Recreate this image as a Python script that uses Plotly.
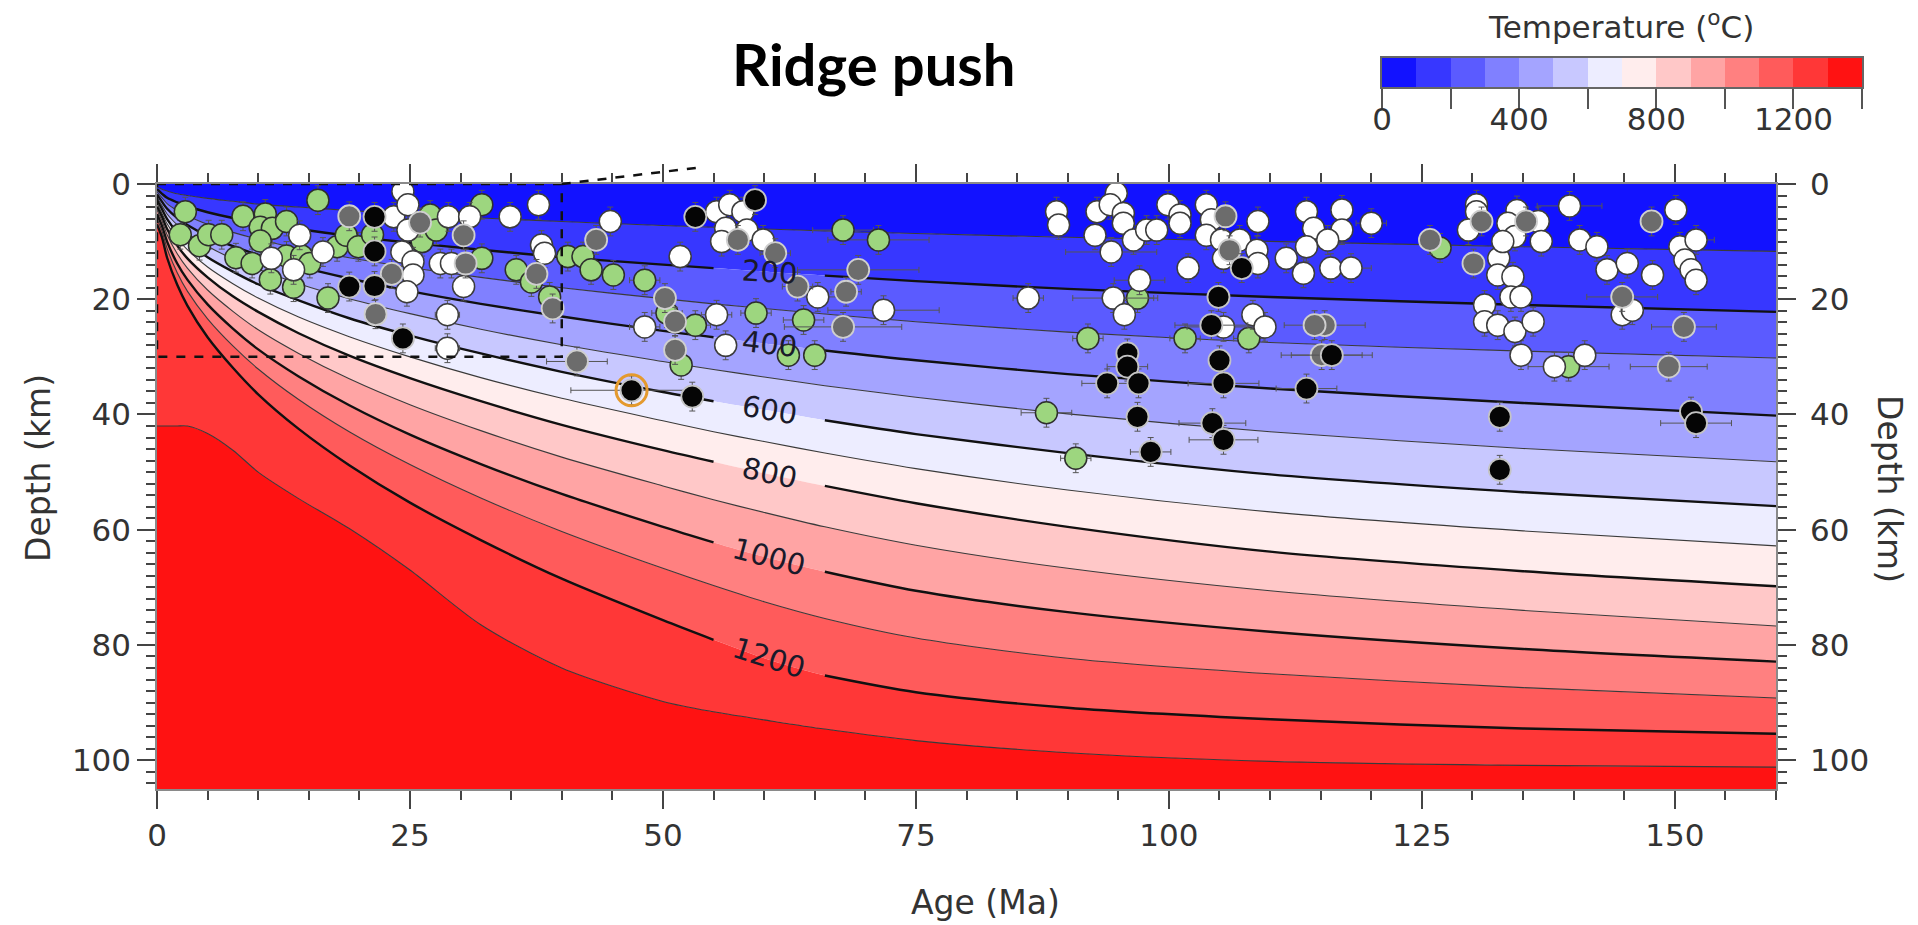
import math
import plotly.graph_objects as go

# ---------------------------------------------------------------------------
# Thermal structure: depth (km) of each isotherm at the listed plate ages (Ma)
# ---------------------------------------------------------------------------
AGES = [0, 0.5, 1, 2, 3, 5, 7.5, 10, 14, 19, 25, 32, 40, 50, 55, 60, 66, 75, 90, 110, 135, 160]

Z100 = [0.45, 0.9, 1.2, 1.7, 2.0, 2.5, 3.0, 3.5, 4.0, 4.6, 5.2, 5.9, 6.5, 7.2, 7.5, 7.8, 8.15, 8.6, 9.25, 9.95, 10.9, 11.7]
Z200 = [0.9, 1.7, 2.4, 3.2, 3.9, 4.9, 5.9, 6.7, 7.8, 9.0, 10.2, 11.4, 12.7, 14.0, 14.6, 15.2, 15.9, 16.85, 18.2, 19.6, 21.0, 22.2]
Z300 = [1.3, 2.4, 3.4, 4.6, 5.5, 7.0, 8.4, 9.6, 11.2, 12.8, 14.5, 16.2, 18.0, 19.9, 20.8, 21.6, 22.55, 23.9, 25.7, 27.5, 29.0, 30.2]
Z400 = [1.8, 3.1, 4.3, 5.9, 7.1, 9.0, 10.8, 12.3, 14.3, 16.4, 18.6, 20.8, 23.0, 25.5, 26.6, 27.7, 28.9, 30.6, 33.0, 35.5, 38.0, 40.2]
Z500 = [2.3, 3.8, 5.2, 7.1, 8.6, 10.8, 13.0, 14.8, 17.3, 19.9, 22.5, 25.2, 27.9, 30.8, 32.2, 33.5, 35.0, 37.0, 39.9, 43.0, 45.9, 48.2]
Z600 = [2.8, 4.4, 6.1, 8.4, 10.0, 12.7, 15.2, 17.4, 20.2, 23.3, 26.3, 29.4, 32.6, 36.1, 37.7, 39.2, 41.0, 43.4, 46.7, 50.4, 53.5, 55.9]
Z700 = [3.3, 5.1, 6.9, 9.5, 11.4, 14.4, 17.3, 19.8, 23.1, 26.5, 30.0, 33.6, 37.2, 41.1, 43.0, 44.7, 46.7, 49.4, 53.1, 56.9, 60.2, 62.8]
Z800 = [3.9, 5.7, 7.8, 10.7, 12.9, 16.2, 19.5, 22.2, 25.9, 29.8, 33.7, 37.7, 41.8, 46.2, 48.2, 50.2, 52.4, 55.4, 59.5, 63.8, 67.2, 69.8]
Z900 = [4.5, 6.4, 8.8, 12.1, 14.6, 18.4, 22.1, 25.3, 29.4, 33.8, 38.3, 42.8, 47.4, 52.4, 54.8, 57.0, 59.5, 62.7, 66.7, 70.6, 74.0, 76.7]
Z1000 = [5.2, 7.3, 10.0, 13.8, 16.6, 20.9, 25.1, 28.7, 33.4, 38.4, 43.5, 48.6, 53.8, 59.5, 62.2, 64.7, 67.3, 70.6, 74.3, 77.7, 80.7, 82.9]
Z1100 = [6.0, 8.2, 11.2, 15.4, 18.6, 23.4, 28.1, 32.1, 37.4, 43.0, 48.7, 54.5, 60.3, 66.7, 69.7, 72.5, 75.4, 78.8, 82.3, 85.0, 87.4, 89.2]
Z1200 = [7.0, 9.3, 12.8, 17.5, 21.1, 26.6, 31.9, 36.5, 42.5, 48.8, 55.3, 61.8, 68.5, 75.7, 79.1, 82.3, 85.3, 88.2, 90.9, 92.9, 94.5, 95.4]
Z1300 = [42.0, 42.0, 42.0, 42.0, 42.0, 43.3, 46.2, 50.0, 54.6, 59.8, 67.0, 76.5, 84.0, 89.8, 91.6, 93.0, 94.6, 96.6, 98.7, 100.2, 100.9, 101.2]

LEVELS = [100, 200, 300, 400, 500, 600, 700, 800, 900, 1000, 1100, 1200, 1300]
LABELLED = [200, 400, 600, 800, 1000, 1200]

# colour-bar classes (deg C)
TEMP_EDGES = [0, 100, 200, 300, 400, 500, 600, 700, 800, 900, 1000, 1100, 1200, 1300, 1400]
COLORBAR_LABELLED = [0, 400, 800, 1200]
COLORBAR_UNLABELLED = [200, 600, 1000, 1400]

# ---------------------------------------------------------------------------
# Earthquakes: (age Ma, depth km, age uncertainty Ma)
# ---------------------------------------------------------------------------
GREEN = [
    (2.8, 4.8, 0.8), (2.3, 8.8, 0.8), (4.2, 10.7, 0.8), (5.1, 8.8, 0.8), (6.4, 8.8, 0.8),
    (8.5, 5.6, 0.8), (10.7, 5.2, 0.8), (10.2, 7.5, 0.8), (11.4, 7.7, 0.8), (12.8, 6.5, 0.8),
    (10.2, 9.9, 0.8), (7.8, 12.8, 0.8), (9.4, 13.8, 0.8), (11.2, 16.6, 0.8), (13.5, 17.9, 0.8),
    (12.8, 12.5, 0.8), (14.3, 12.5, 0.8), (15.1, 13.8, 0.8), (15.9, 2.8, 0.8), (16.9, 19.8, 0.8),
    (17.8, 10.9, 0.8), (18.7, 8.9, 0.8), (19.9, 10.9, 0.8), (21.3, 8.8, 0.8), (26.2, 10.0, 0.8),
    (27.0, 5.4, 0.8), (27.6, 8.0, 0.8), (32.1, 3.6, 0.8), (32.1, 12.9, 0.8), (35.5, 14.9, 0.8),
    (37.0, 17.0, 0.8), (38.8, 19.6, 0.8), (40.6, 12.6, 0.8), (42.1, 12.6, 1.0), (42.9, 14.9, 1.0),
    (45.1, 15.8, 1.0), (48.2, 16.7, 1.5), (50.4, 22.4, 1.5), (53.2, 24.5, 1.5), (59.2, 22.4, 1.5),
    (63.9, 23.6, 2.0), (62.4, 29.7, 1.0), (65.0, 29.7, 1.0), (51.8, 31.4, 1.0), (67.8, 8.0, 3.0),
    (71.3, 9.7, 5.0), (87.9, 39.7, 2.5), (90.8, 47.6, 1.5), (96.9, 19.8, 2.0), (92.0, 26.8, 1.5),
    (101.6, 26.8, 1.5), (107.9, 26.8, 1.5), (126.8, 11.1, 1.0), (139.5, 31.7, 4.0),
]

WHITE = [
    (14.1, 8.9, 0.8), (11.3, 12.9, 0.8), (13.5, 14.9, 0.8), (16.4, 11.8, 0.8), (23.4, 5.7, 0.8),
    (24.3, 1.3, 0.8), (24.8, 3.6, 0.8), (24.8, 8.0, 0.8), (24.2, 11.8, 0.8), (25.3, 13.5, 0.8),
    (25.3, 15.8, 0.8), (24.7, 18.7, 0.8), (28.8, 5.7, 0.8), (30.9, 5.7, 0.8), (28.0, 13.8, 0.8),
    (29.1, 13.8, 0.8), (30.3, 17.8, 0.8), (28.7, 22.7, 1.2), (28.7, 28.5, 1.2), (34.9, 5.7, 0.8),
    (37.7, 3.6, 0.8), (38.0, 10.6, 0.8), (38.3, 12.0, 0.8), (44.8, 6.5, 1.0), (51.7, 12.6, 1.0),
    (55.3, 4.8, 1.0), (56.6, 3.6, 1.0), (57.9, 4.8, 1.0), (56.2, 7.7, 1.0), (55.8, 10.0, 1.0),
    (58.3, 8.0, 1.0), (59.9, 9.7, 1.0), (65.3, 19.6, 2.0), (71.8, 21.9, 5.5), (86.1, 19.8, 1.5),
    (55.3, 22.7, 1.5), (48.2, 24.8, 1.5), (56.2, 28.0, 1.0), (88.9, 4.8, 1.0), (89.1, 7.1, 1.0),
    (92.9, 4.8, 1.0), (94.8, 1.6, 1.0), (94.2, 3.6, 1.0), (95.5, 5.1, 1.0), (95.5, 6.8, 1.0),
    (92.7, 8.9, 1.0), (94.3, 11.8, 4.5), (96.5, 9.7, 1.0), (97.8, 8.0, 1.0), (98.8, 8.0, 1.0),
    (99.9, 3.6, 1.0), (101.1, 5.4, 1.0), (101.1, 6.8, 1.0), (103.7, 3.6, 1.0), (104.2, 6.2, 1.0),
    (103.7, 8.9, 1.0), (105.2, 9.7, 1.0), (107.0, 9.7, 1.0), (105.4, 12.9, 1.0), (108.7, 11.5, 1.0),
    (108.8, 13.8, 1.0), (108.8, 6.5, 1.0), (101.9, 14.6, 1.0), (111.6, 12.9, 1.0), (113.3, 15.5, 1.0),
    (113.6, 4.8, 1.0), (114.3, 7.7, 1.0), (117.1, 4.5, 1.0), (117.1, 8.0, 1.0), (115.7, 9.7, 1.0),
    (113.6, 10.9, 1.0), (116.0, 14.6, 1.0), (118.0, 14.6, 2.0), (120.0, 6.8, 1.5), (94.5, 19.8, 4.0),
    (97.1, 16.7, 2.5), (95.6, 22.7, 1.0), (108.3, 22.7, 1.0), (109.5, 24.8, 1.0), (105.4, 24.8, 3.6),
    (130.4, 3.6, 1.0), (130.4, 4.8, 1.0), (129.6, 8.0, 1.0), (132.6, 12.9, 1.0), (131.2, 21.0, 1.0),
    (131.2, 23.9, 1.0), (134.4, 4.6, 1.0), (133.5, 6.8, 1.0), (136.5, 6.5, 1.0), (134.2, 9.1, 1.0),
    (136.8, 10.0, 1.0), (133.0, 10.0, 1.0), (139.6, 3.8, 3.2), (140.6, 9.7, 1.0), (142.3, 10.9, 1.0),
    (143.3, 14.9, 1.0), (145.3, 13.8, 1.0), (147.8, 15.8, 1.0), (150.1, 4.5, 1.0), (150.5, 10.9, 1.0),
    (152.1, 9.7, 1.8), (151.0, 13.2, 1.0), (151.6, 14.9, 1.0), (152.1, 16.7, 1.0), (132.5, 15.8, 1.0),
    (134.0, 16.1, 1.0), (133.8, 19.6, 1.0), (134.8, 19.6, 1.0), (132.5, 24.5, 1.0), (134.2, 25.6, 1.0),
    (136.0, 23.9, 1.0), (134.8, 29.7, 1.0), (138.1, 31.7, 1.0), (141.1, 29.7, 1.0), (144.8, 22.7, 1.0),
    (145.8, 21.9, 1.0),
]

GREY = [
    (19.0, 5.6, 0.8), (26.0, 6.7, 0.8), (30.3, 8.9, 0.8), (30.5, 13.8, 0.8), (23.2, 15.6, 0.8),
    (21.6, 22.6, 0.8), (37.5, 15.6, 0.8), (39.1, 21.6, 0.8), (43.4, 9.7, 1.0), (57.4, 9.7, 1.0),
    (61.1, 12.0, 1.5), (63.3, 17.8, 1.5), (69.3, 14.9, 6.0), (68.1, 18.7, 1.5), (67.8, 24.8, 5.8),
    (50.2, 19.8, 1.0), (51.2, 23.9, 1.0), (51.2, 28.8, 1.0), (41.5, 30.8, 3.0), (105.6, 5.6, 1.0),
    (106.0, 11.5, 1.0), (115.4, 24.5, 4.0), (114.4, 24.5, 1.0), (125.8, 9.7, 1.0), (130.1, 13.8, 1.0),
    (130.9, 6.5, 1.0), (115.1, 29.7, 4.0), (135.3, 6.5, 1.0), (147.7, 6.5, 1.0), (144.8, 19.6, 3.5),
    (150.9, 24.8, 3.2), (149.4, 31.7, 3.8),
]

BLACK = [
    (21.5, 5.7, 0.8), (21.5, 11.7, 0.8), (21.5, 17.7, 0.8), (19.0, 17.8, 0.8), (24.3, 26.8, 0.8),
    (53.2, 5.7, 1.0), (59.1, 2.8, 1.0), (46.9, 35.8, 6.0), (52.9, 36.9, 1.0), (107.2, 14.6, 1.0),
    (104.9, 19.6, 1.0), (104.2, 24.5, 3.6), (95.9, 29.4, 1.0), (95.9, 31.7, 2.0), (93.9, 34.6, 2.5),
    (97.0, 34.6, 1.0), (105.0, 30.6, 1.0), (105.4, 34.6, 3.5), (116.1, 29.7, 4.0), (113.6, 35.5, 3.0),
    (96.9, 40.4, 1.0), (104.3, 41.5, 3.3), (105.4, 44.4, 3.4), (98.2, 46.5, 2.0), (132.7, 40.4, 1.0),
    (132.7, 49.6, 1.0), (151.6, 39.5, 1.0), (152.1, 41.5, 3.5),
]

HIGHLIGHT = [(46.9, 35.8)]

DEPTH_ERR = 2.5  # km, vertical uncertainty shown on every event

# ---------------------------------------------------------------------------
# Layout geometry (pixels); paper coordinates span the whole figure
# ---------------------------------------------------------------------------
FIG_W, FIG_H = 1918, 925
PLOT_L, PLOT_R, PLOT_T, PLOT_B = 157, 1776, 184, 789
CBAR_L, CBAR_R, CBAR_T, CBAR_B = 1382, 1862, 58, 87
AGE_MAX, DEPTH_MAX = 160, 105

TICK_FONT = dict(family="DejaVu Sans", size=31, color="#333333")
LABEL_FONT = dict(family="DejaVu Sans", size=33, color="#333333")


def px(xp):
    return xp / FIG_W


def py(yp):
    return 1 - yp / FIG_H


def bwr(v):
    """matplotlib 'bwr' colormap."""
    if v <= 0.5:
        c = int(round(255 * 2 * v))
        return f"rgb({c},{c},255)"
    c = int(round(255 * 2 * (1 - v)))
    return f"rgb(255,{c},{c})"


isotherms = dict(zip(LEVELS, [Z100, Z200, Z300, Z400, Z500, Z600, Z700,
                              Z800, Z900, Z1000, Z1100, Z1200, Z1300]))

n_bins = len(TEMP_EDGES) - 1
bin_colors = [bwr((i + 0.5) / n_bins) for i in range(n_bins)]

fig = go.Figure()

# --- filled temperature bands, stacked from the surface downwards -----------
fig.add_trace(go.Scatter(x=[0, AGE_MAX], y=[0, 0], mode="lines",
                         line=dict(width=0), hoverinfo="skip", showlegend=False))
for i, lev in enumerate(LEVELS):
    fig.add_trace(go.Scatter(
        x=AGES, y=isotherms[lev], mode="lines",
        line=dict(width=0, shape="spline", smoothing=0.8),
        fill="tonexty", fillcolor=bin_colors[i],
        hoverinfo="skip", showlegend=False))
fig.add_trace(go.Scatter(x=[0, AGE_MAX], y=[DEPTH_MAX, DEPTH_MAX], mode="lines",
                         line=dict(width=0), fill="tonexty", fillcolor=bin_colors[-1],
                         hoverinfo="skip", showlegend=False))

# --- isotherm lines (broken where a label sits) -------------------------------
i55, i60, i66 = AGES.index(55), AGES.index(60), AGES.index(66)
for lev in LEVELS:
    z = list(isotherms[lev])
    major = lev in LABELLED
    if major:
        z[i60] = None
    fig.add_trace(go.Scatter(
        x=AGES, y=z, mode="lines", connectgaps=False,
        line=dict(color="#111111" if major else "#3a3a3a",
                  width=2.4 if major else 1.1, shape="spline", smoothing=0.8),
        hoverinfo="skip", showlegend=False))

# --- isotherm labels --------------------------------------------------------
ppm = (PLOT_R - PLOT_L) / AGE_MAX
ppk = (PLOT_B - PLOT_T) / DEPTH_MAX
for lev in LABELLED:
    z = isotherms[lev]
    ang = math.degrees(math.atan2((z[i66] - z[i55]) * ppk, (AGES[i66] - AGES[i55]) * ppm))
    fig.add_annotation(x=60.5, y=z[i60], text=str(lev), textangle=ang,
                       showarrow=False, xref="x", yref="y",
                       xanchor="center", yanchor="middle",
                       font=dict(family="DejaVu Sans", size=29, color="#1a1a2a"))


# --- earthquakes ------------------------------------------------------------
def add_events(events, fill, edge, edge_w):
    fig.add_trace(go.Scatter(
        x=[e[0] for e in events], y=[e[1] for e in events], mode="markers",
        marker=dict(size=22, color=fill, line=dict(color=edge, width=edge_w)),
        error_x=dict(type="data", array=[e[2] for e in events],
                     color="#555555", thickness=1, width=3),
        error_y=dict(type="constant", value=DEPTH_ERR, color="#555555", thickness=1, width=3),
        hoverinfo="skip", showlegend=False))


add_events(GREEN, "#9dd67f", "#2e2e2e", 1.5)
add_events(WHITE, "#ffffff", "#3c3c3c", 1.5)
add_events(GREY, "#6c6c6c", "#cfcfcf", 1.8)
add_events(BLACK, "#050505", "#c4c4c4", 1.8)

fig.add_trace(go.Scatter(
    x=[h[0] for h in HIGHLIGHT], y=[h[1] for h in HIGHLIGHT], mode="markers",
    marker=dict(symbol="circle-open", size=31, color="#e49a2e", line=dict(width=3)),
    hoverinfo="skip", showlegend=False))

# dummy trace so the right-hand depth axis is drawn
fig.add_trace(go.Scatter(x=[None], y=[None], yaxis="y2", hoverinfo="skip", showlegend=False))

# --- colour bar: one cell per temperature class ------------------------------
cscale = []
for i, c in enumerate(bin_colors):
    cscale.append([i / n_bins, c])
    cscale.append([(i + 1) / n_bins, c])
centres = [(a + b) / 2 for a, b in zip(TEMP_EDGES[:-1], TEMP_EDGES[1:])]
fig.add_trace(go.Heatmap(
    x=TEMP_EDGES, y=[0, 1], z=[centres],
    zmin=TEMP_EDGES[0], zmax=TEMP_EDGES[-1], colorscale=cscale,
    showscale=False, hoverinfo="skip", xaxis="x3", yaxis="y3"))

# --- inset outline and connector ------------------------------------------
fig.add_shape(type="rect", x0=0, x1=40, y0=0, y1=30, xref="x", yref="y",
              line=dict(color="#111111", width=2.5, dash="dash"))
fig.add_shape(type="line", x0=40, x1=54.0, y0=py(PLOT_T), y1=py(167),
              xref="x", yref="paper", line=dict(color="#111111", width=2.5, dash="dash"))

# --- axes ---------------------------------------------------------------------
axis_common = dict(ticks="outside", ticklen=18, tickwidth=2, tickcolor="#444444",
                   showline=True, linecolor="#8a8a8a", linewidth=1.5,
                   showgrid=False, zeroline=False, tickfont=TICK_FONT)
minor_x = dict(dtick=5, ticks="outside", ticklen=9, tickwidth=1.5, tickcolor="#444444")
minor_y = dict(dtick=2, ticks="outside", ticklen=9, tickwidth=1.5, tickcolor="#444444")

fig.update_layout(
    width=FIG_W, height=FIG_H,
    margin=dict(l=0, r=0, t=0, b=0, autoexpand=False),
    paper_bgcolor="white", plot_bgcolor="white",
    xaxis=dict(domain=[px(PLOT_L), px(PLOT_R)], anchor="y",
               range=[0, AGE_MAX], tickvals=[0, 25, 50, 75, 100, 125, 150],
               mirror="ticks", minor=minor_x, **axis_common),
    yaxis=dict(domain=[py(PLOT_B), py(PLOT_T)], anchor="x",
               range=[DEPTH_MAX, 0], tickvals=[0, 20, 40, 60, 80, 100],
               minor=minor_y, **axis_common),
    yaxis2=dict(range=[DEPTH_MAX, 0], tickvals=[0, 20, 40, 60, 80, 100],
                overlaying="y", side="right", anchor="x", ticklabelstandoff=8,
                minor=minor_y, **axis_common),
    xaxis3=dict(domain=[px(CBAR_L), px(CBAR_R)], anchor="y3",
                range=[TEMP_EDGES[0], TEMP_EDGES[-1]],
                tickmode="array", tickvals=COLORBAR_LABELLED,
                ticks="outside", ticklen=20, tickwidth=2, tickcolor="#555555",
                minor=dict(tickvals=COLORBAR_UNLABELLED, ticks="outside", ticklen=20,
                           tickwidth=2, tickcolor="#555555"),
                ticklabelstandoff=-16,
                showline=True, mirror=True, linecolor="#666666", linewidth=1.5,
                showgrid=False, zeroline=False, tickfont=TICK_FONT),
    yaxis3=dict(domain=[py(CBAR_B), py(CBAR_T)], anchor="x3", range=[0, 1],
                showticklabels=False, ticks="", showline=True, mirror=True,
                linecolor="#666666", linewidth=1.5, showgrid=False, zeroline=False),
)


# --- titles -------------------------------------------------------------------
def add_text(text, xp, yp, font, angle=0):
    fig.add_annotation(x=px(xp), y=py(yp), xref="paper", yref="paper",
                       xanchor="center", yanchor="middle", text=text,
                       textangle=angle, showarrow=False, font=font)


add_text("<b>Ridge push</b>", 874, 64, dict(family="Lato", size=58, color="black"))
add_text("Temperature (<sup>o</sup>C)", 1621, 25, dict(family="DejaVu Sans", size=31, color="#333333"))
add_text("Age (Ma)", 985, 902, LABEL_FONT)
add_text("Depth (km)", 38, 468, LABEL_FONT, -90)
add_text("Depth (km)", 1890, 489, LABEL_FONT, 90)

fig.write_html("out.html")
